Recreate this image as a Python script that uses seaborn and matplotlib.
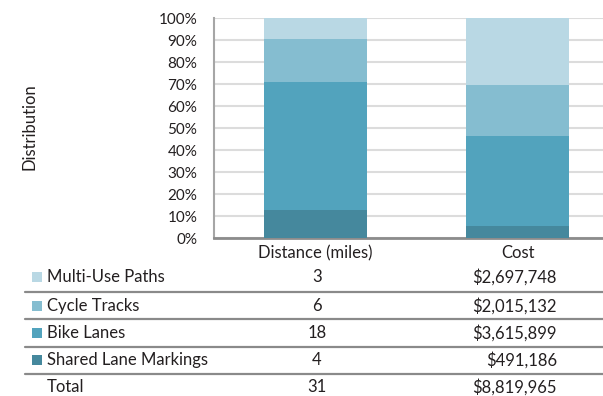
import matplotlib
matplotlib.use("Agg")
import matplotlib.pyplot as plt
from matplotlib.lines import Line2D
from matplotlib.patches import Rectangle
import numpy as np
import pandas as pd
import seaborn as sns

# Facility types, top row of the table first
facilities = ["Multi-Use Paths", "Cycle Tracks", "Bike Lanes", "Shared Lane Markings"]
distance_miles = [3, 6, 18, 4]
cost_dollars = [2697748, 2015132, 3615899, 491186]
measures = ["Distance (miles)", "Cost"]
colors = ["#b9d8e4", "#85bdd0", "#52a3bd", "#45889d"]
ytick_labels = [f"{p}%" for p in range(0, 101, 10)]

sns.set_theme(style="white")
plt.rcParams["font.family"] = ["Lato", "DejaVu Sans"]
text_color = "#231f20"
table_fs = 12

fig = plt.figure(figsize=(6.03, 3.96), dpi=100)
ax = fig.add_axes([214 / 603, 1 - 238 / 396, 1 - 214 / 603, (238 - 18) / 396])

# Shares per measure, stacked from the bottom (shared lanes) upward
dist_share = np.array(distance_miles) / sum(distance_miles) * 100
cost_share = np.array(cost_dollars) / sum(cost_dollars) * 100
bottom_up = list(range(len(facilities)))[::-1]
cum_dist = np.cumsum(dist_share[bottom_up])
cum_cost = np.cumsum(cost_share[bottom_up])

# Draw the cumulative heights tallest first so each layer shows its own band
for k in range(len(facilities) - 1, -1, -1):
    idx = bottom_up[k]
    df = pd.DataFrame({"measure": measures, "pct": [cum_dist[k], cum_cost[k]]})
    sns.barplot(data=df, x="measure", y="pct", color=colors[idx], width=0.51,
                saturation=1, ax=ax, zorder=3, linewidth=0)

ax.set_ylim(0, 100)
ax.set_xlim(-0.502, 1.423)
ax.set_yticks(range(0, 101, 10))
ax.set_yticklabels(ytick_labels)
ax.yaxis.grid(True, color="#dcdcdc", linewidth=1.5, zorder=0)
ax.set_axisbelow(True)
ax.tick_params(axis="y", length=0, pad=12, labelsize=11, labelcolor=text_color)
ax.tick_params(axis="x", length=0, pad=5, labelsize=12, labelcolor=text_color)
ax.set_xlabel("")
ax.set_ylabel("")
for s in ["top", "right"]:
    ax.spines[s].set_visible(False)
ax.spines["left"].set_color("#a6a6a6")
ax.spines["left"].set_linewidth(1.5)
ax.spines["bottom"].set_color("#8c8c8c")
ax.spines["bottom"].set_linewidth(2)

fig.text(30 / 603, 1 - 127 / 396, "Distribution", rotation=90, ha="center",
         va="center", fontsize=12, color=text_color)

# Data table under the chart
def fx(px):
    return px / 603

def fy(py):
    return 1 - py / 396

row_y = [277, 306, 333, 360]
line_y = [292, 319, 347, 374]
for i, name in enumerate(facilities):
    y = row_y[i]
    fig.patches.append(Rectangle((fx(32), fy(y + 5)), fx(10), 10 / 396,
                                 transform=fig.transFigure, color=colors[i],
                                 lw=0))
    fig.text(fx(47), fy(y), name, ha="left", va="center", fontsize=table_fs,
             color=text_color)
    fig.text(fx(317), fy(y), f"{distance_miles[i]}", ha="center", va="center",
             fontsize=table_fs, color=text_color)
    fig.text(fx(557), fy(y), f"${cost_dollars[i]:,}", ha="right", va="center",
             fontsize=table_fs, color=text_color)

total_y = 387
fig.text(fx(47), fy(total_y), "Total", ha="left", va="center",
         fontsize=table_fs, color=text_color)
fig.text(fx(317), fy(total_y), f"{sum(distance_miles)}", ha="center",
         va="center", fontsize=table_fs, color=text_color)
fig.text(fx(557), fy(total_y), f"${sum(cost_dollars):,}", ha="right",
         va="center", fontsize=table_fs, color=text_color)

for ly in line_y:
    fig.lines.append(Line2D([fx(25), 1.0], [fy(ly), fy(ly)],
                            transform=fig.transFigure, color="#8a8a8a",
                            linewidth=1.6))

fig.savefig("out.png", dpi=100)
